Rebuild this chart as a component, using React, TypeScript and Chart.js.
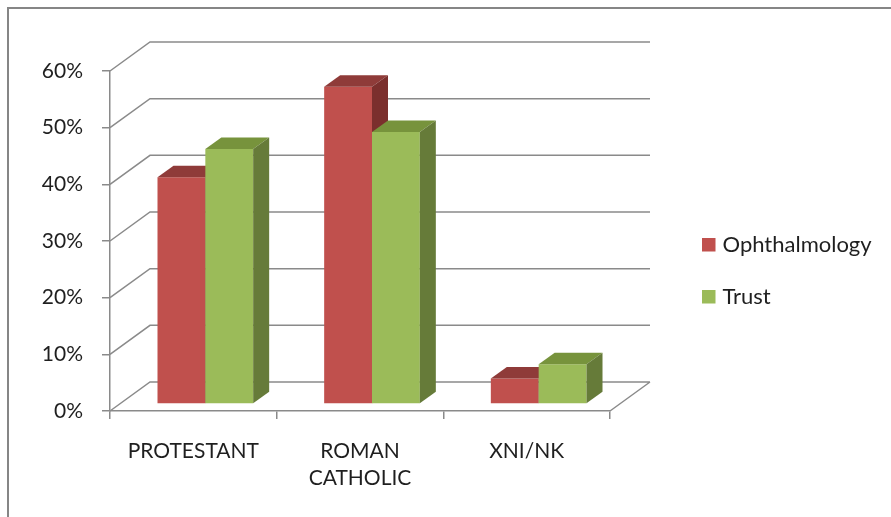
import { useEffect, useRef } from "react";
import { Chart, registerables } from "chart.js";

Chart.register(...registerables);

// Religion breakdown: Ophthalmology vs Trust
const categories: (string | string[])[] = ["PROTESTANT", ["ROMAN", "CATHOLIC"], "XNI/NK"];
const ophthalmology = [40, 56, 4.5];
const trust = [45, 48, 7];
const yMin = 0;
const yMax = 60;
const yStep = 10;

const seriesNames = ["Ophthalmology", "Trust"];
const frontColors = ["#C0504D", "#9BBB59"];
const topColors = ["#8F3B39", "#77933C"];
const sideColors = ["#7B2F2D", "#667B39"];

const FONT = "Lato, 'Open Sans', sans-serif";
const TEXT = "#1f1f1f";
const LINE = "#8a8a8a";

// oblique depth of the walls and of the bars
const WALL_DX = 40;
const WALL_DY = -29;
const BAR_SHIFT_X = 12;
const BAR_SHIFT_Y = -7;
const BAR_DX = 16;
const BAR_DY = -11.5;

const box3d = {
  id: "box3d",
  beforeDraw(chart: any) {
    const { ctx } = chart;
    ctx.save();
    ctx.fillStyle = "#ffffff";
    ctx.fillRect(0, 0, chart.width, chart.height);
    ctx.strokeStyle = "#868686";
    ctx.lineWidth = 2;
    ctx.strokeRect(8, 8, chart.width + 40, chart.height + 40);
    ctx.restore();
  },
  beforeDatasetsDraw(chart: any) {
    const { ctx, chartArea: a } = chart;
    const ys = chart.scales.y;
    ctx.save();
    // side wall, back wall and floor lines
    ctx.strokeStyle = LINE;
    ctx.lineWidth = 1.5;
    ctx.beginPath();
    ys.ticks.forEach((t: any) => {
      const py = ys.getPixelForValue(t.value);
      ctx.moveTo(a.left, py);
      ctx.lineTo(a.left + WALL_DX, py + WALL_DY);
      ctx.lineTo(a.right + WALL_DX, py + WALL_DY);
    });
    ctx.moveTo(a.right, a.bottom);
    ctx.lineTo(a.right + WALL_DX, a.bottom + WALL_DY);
    ctx.stroke();

    // bars: front face from the library, then top and side faces
    ctx.translate(BAR_SHIFT_X, BAR_SHIFT_Y);
    chart.data.datasets.forEach((_ds: any, i: number) => {
      const meta = chart.getDatasetMeta(i);
      meta.data.forEach((bar: any) => {
        bar.draw(ctx);
        const { x, y, width, base } = bar;
        const l = x - width / 2;
        const r = x + width / 2;
        ctx.fillStyle = topColors[i];
        ctx.beginPath();
        ctx.moveTo(l, y);
        ctx.lineTo(r, y);
        ctx.lineTo(r + BAR_DX, y + BAR_DY);
        ctx.lineTo(l + BAR_DX, y + BAR_DY);
        ctx.closePath();
        ctx.fill();
        ctx.fillStyle = sideColors[i];
        ctx.beginPath();
        ctx.moveTo(r, y);
        ctx.lineTo(r + BAR_DX, y + BAR_DY);
        ctx.lineTo(r + BAR_DX, base + BAR_DY);
        ctx.lineTo(r, base);
        ctx.closePath();
        ctx.fill();
      });
    });
    ctx.restore();
    return false;
  },
  afterDraw(chart: any) {
    const { ctx } = chart;
    ctx.save();
    ctx.font = `22px ${FONT}`;
    ctx.textAlign = "left";
    ctx.textBaseline = "alphabetic";
    chart.data.datasets.forEach((ds: any, i: number) => {
      const baseline = 251.5 + i * 52;
      ctx.fillStyle = frontColors[i];
      ctx.fillRect(702, baseline - 13.5, 13.5, 13.5);
      ctx.fillStyle = TEXT;
      ctx.fillText(ds.label, 722.5, baseline);
    });
    ctx.restore();
  },
};

export default function App() {
  const ref = useRef<HTMLCanvasElement | null>(null);

  useEffect(() => {
    if (!ref.current) return;
    const chart = new Chart(ref.current, {
      type: "bar",
      data: {
        labels: categories,
        datasets: [
          { label: seriesNames[0], data: ophthalmology, backgroundColor: frontColors[0] },
          { label: seriesNames[1], data: trust, backgroundColor: frontColors[1] },
        ],
      },
      options: {
        responsive: false,
        animation: false,
        events: [],
        layout: { padding: { left: 0, top: 71, right: 281, bottom: 0 } },
        datasets: {
          bar: { categoryPercentage: 0.574, barPercentage: 1, borderWidth: 0 },
        },
        plugins: { legend: { display: false }, tooltip: { enabled: false } },
        scales: {
          x: {
            grid: { display: true, drawOnChartArea: false, drawTicks: true, tickLength: 8, color: LINE, lineWidth: 1.5, offset: true },
            border: { display: true, color: LINE, width: 1.5 },
            ticks: { color: TEXT, font: { family: FONT, size: 21, lineHeight: 1.32 }, padding: 18, maxRotation: 0, autoSkip: false },
            afterFit(scale: any) {
              scale.height = 106;
            },
          },
          y: {
            min: yMin,
            max: yMax,
            grid: { display: true, drawOnChartArea: false, drawTicks: true, tickLength: 8, color: LINE, lineWidth: 1.5 },
            border: { display: true, color: LINE, width: 1.5 },
            ticks: {
              stepSize: yStep,
              color: TEXT,
              padding: 19,
              font: { family: FONT, size: 21 },
              callback: (v: any) => `${v}%`,
            },
            afterFit(scale: any) {
              scale.width = 110;
            },
          },
        },
      },
      plugins: [box3d],
    });
    return () => chart.destroy();
  }, []);

  return (
    <div style={{ position: "absolute", left: 0, top: 0, width: 891, height: 517 }}>
      <canvas ref={ref} width={891} height={517} />
    </div>
  );
}
